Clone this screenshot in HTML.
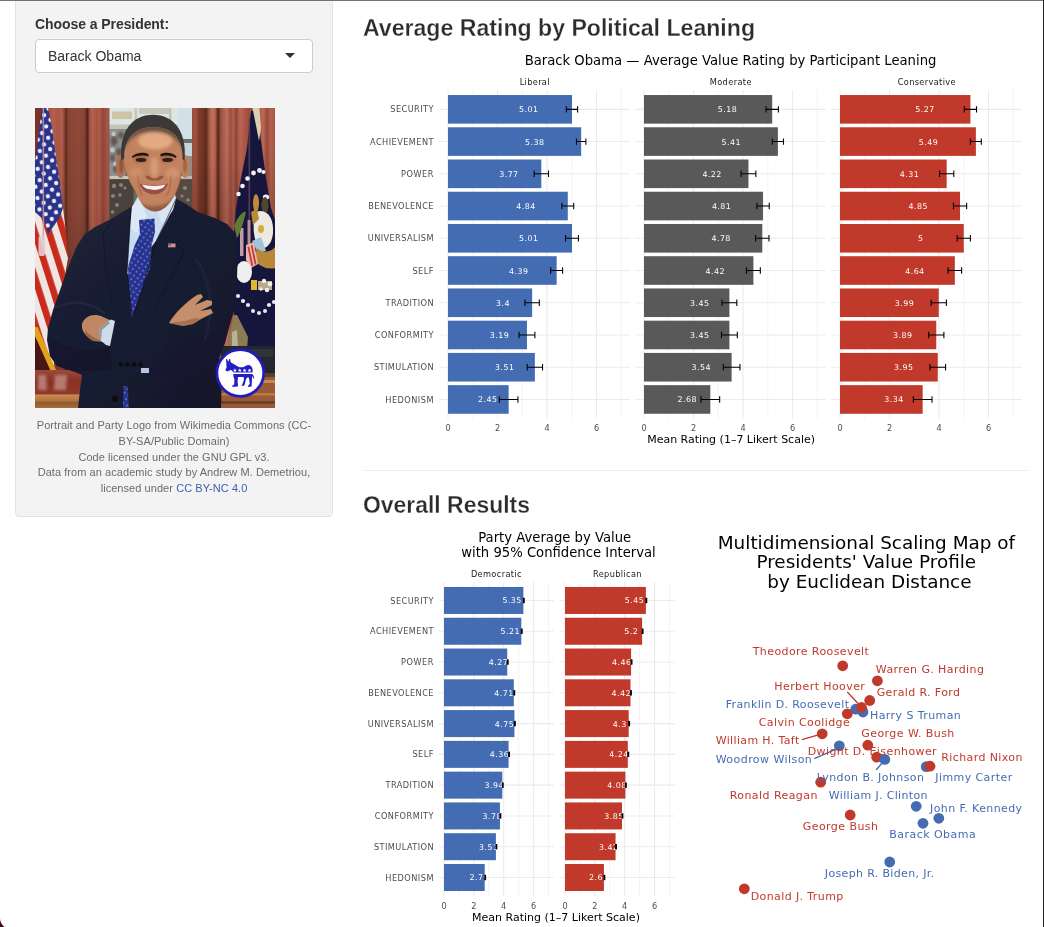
<!DOCTYPE html>
<html lang="en"><head><meta charset="utf-8"><title>Presidential Values</title>
<style>
html,body{margin:0;padding:0;}
body{width:1044px;height:927px;overflow:hidden;background:#fff;position:relative;font-family:"Liberation Sans",sans-serif;color:#333;}
.abs{position:absolute;}
.well{position:absolute;left:15px;top:-6px;width:316px;height:521px;background:#f3f3f3;border:1px solid #e3e3e3;border-radius:4px;box-shadow:inset 0 1px 1px rgba(0,0,0,.05);}
.lbl{position:absolute;left:35px;top:14px;font-size:14px;line-height:20px;font-weight:bold;color:#333;white-space:nowrap;letter-spacing:-0.07px;}
.sel{position:absolute;left:35px;top:39px;width:276px;height:32px;border:1px solid #ccc;border-radius:4px;background:#fff;}
.sel span{position:absolute;left:12px;top:6px;font-size:14px;line-height:20px;color:#333;white-space:nowrap;}
.sel i{position:absolute;right:17px;top:13px;width:0;height:0;border-style:solid;border-width:5px 5px 0 5px;border-color:#333 transparent transparent transparent;}
.cap{position:absolute;left:33px;top:418.3px;width:282px;letter-spacing:.06px;text-align:center;font-size:11px;line-height:15.714px;color:#6b6b6b;}
.cap a{color:#3a62ad;text-decoration:none;}
h3{position:absolute;margin:0;transform-origin:0 0;-webkit-text-stroke:.28px #fff;font-size:24px;line-height:26px;font-weight:bold;color:#2c2c2c;white-space:nowrap;}
.hr{position:absolute;left:363px;top:470px;width:666px;height:1px;background:#eee;}
.plot{position:absolute;display:block;}
.edge-top{position:absolute;left:0;top:0;width:1044px;height:1px;background:#737373;}
.edge-right{position:absolute;left:1043px;top:0;width:1px;height:927px;background:#222;}
.corner{position:absolute;left:-11px;top:906.5px;width:22px;height:22px;}
</style></head><body>
<div class="well"></div>
<div class="lbl">Choose a President:</div>
<div class="sel"><span>Barack Obama</span><i></i></div>
<svg class="abs" style="left:35px;top:108px" width="240" height="300" viewBox="0 0 240 300">
<defs>
<linearGradient id="foldL" x1="0" x2="76" y1="0" y2="0" gradientUnits="userSpaceOnUse"><stop offset="0.000" stop-color="#74302a"/><stop offset="0.079" stop-color="#7b3026"/><stop offset="0.158" stop-color="#9c4d3d"/><stop offset="0.237" stop-color="#b55f4e"/><stop offset="0.303" stop-color="#aa5746"/><stop offset="0.355" stop-color="#b4604e"/><stop offset="0.388" stop-color="#8a4233"/><stop offset="0.408" stop-color="#5c2b1f"/><stop offset="0.434" stop-color="#874232"/><stop offset="0.500" stop-color="#8e4737"/><stop offset="0.579" stop-color="#8f4939"/><stop offset="0.645" stop-color="#884535"/><stop offset="0.678" stop-color="#66301f"/><stop offset="0.692" stop-color="#50231a"/><stop offset="0.717" stop-color="#9a4f3e"/><stop offset="0.755" stop-color="#b8624f"/><stop offset="0.812" stop-color="#a25542"/><stop offset="0.847" stop-color="#b05c49"/><stop offset="0.895" stop-color="#944538"/><stop offset="0.954" stop-color="#a65847"/><stop offset="1.000" stop-color="#9a4e3e"/></linearGradient>
<linearGradient id="foldR" x1="155" x2="240" y1="0" y2="0" gradientUnits="userSpaceOnUse"><stop offset="0.000" stop-color="#9a4e3c"/><stop offset="0.071" stop-color="#a0523f"/><stop offset="0.106" stop-color="#7e3c2b"/><stop offset="0.165" stop-color="#6f3323"/><stop offset="0.191" stop-color="#5c2b1d"/><stop offset="0.218" stop-color="#9a4f3e"/><stop offset="0.259" stop-color="#c4705e"/><stop offset="0.294" stop-color="#b96654"/><stop offset="0.318" stop-color="#7a3a2a"/><stop offset="0.332" stop-color="#50241a"/><stop offset="0.353" stop-color="#8e4a3a"/><stop offset="0.382" stop-color="#a55a48"/><stop offset="0.435" stop-color="#c06e5c"/><stop offset="0.480" stop-color="#9c4e3e"/><stop offset="0.511" stop-color="#b4604e"/><stop offset="0.541" stop-color="#8e4436"/><stop offset="0.588" stop-color="#be6654"/><stop offset="0.635" stop-color="#b05a4a"/><stop offset="0.694" stop-color="#9c4c3d"/><stop offset="0.812" stop-color="#a85646"/><stop offset="0.859" stop-color="#c06a58"/><stop offset="0.906" stop-color="#9a4a3b"/><stop offset="0.953" stop-color="#b86250"/><stop offset="1.000" stop-color="#a55445"/></linearGradient>
<linearGradient id="shadeDown" x1="0" x2="0" y1="0" y2="1"><stop offset="0" stop-color="#000" stop-opacity="0"/><stop offset=".35" stop-color="#000" stop-opacity=".05"/><stop offset="1" stop-color="#200" stop-opacity=".38"/></linearGradient>
<pattern id="stripes" width="13.6" height="10" patternUnits="userSpaceOnUse" patternTransform="rotate(-17.5)"><rect width="13.6" height="10" fill="#efe6e2"/><rect width="6.6" height="10" fill="#c92a1e"/></pattern>
<pattern id="dots" width="4.6" height="4.6" patternUnits="userSpaceOnUse" patternTransform="rotate(35)"><rect width="4.6" height="4.6" fill="#27328f"/><circle cx="2.3" cy="2.3" r=".9" fill="#7f8bd6"/></pattern>
<pattern id="stars" width="10.5" height="11.5" patternUnits="userSpaceOnUse" patternTransform="rotate(-10)"><rect width="10.5" height="11.5" fill="#2a3389"/><circle cx="2.6" cy="2.9" r="2.1" fill="#eeeef8"/><circle cx="7.8" cy="8.6" r="2.1" fill="#eeeef8"/></pattern>
<linearGradient id="suit" x1="0" x2="1" y1="0" y2="1"><stop offset="0" stop-color="#1c2238"/><stop offset=".5" stop-color="#181d31"/><stop offset="1" stop-color="#12162a"/></linearGradient>
<radialGradient id="skin" cx=".45" cy=".45" r=".6"><stop offset="0" stop-color="#cf9470"/><stop offset=".6" stop-color="#bd7d5b"/><stop offset="1" stop-color="#8f583f"/></radialGradient>
<linearGradient id="deskL" x1="0" x2="0" y1="262" y2="300" gradientUnits="userSpaceOnUse"><stop offset="0" stop-color="#9a4a3c"/><stop offset=".3" stop-color="#8a3024"/><stop offset=".62" stop-color="#8c3a2b"/><stop offset=".66" stop-color="#c98850"/><stop offset=".8" stop-color="#b8743f"/><stop offset=".86" stop-color="#8d5a2e"/><stop offset="1" stop-color="#a86c3a"/></linearGradient>
<filter id="b1" x="-5%" y="-5%" width="110%" height="110%"><feGaussianBlur stdDeviation=".7"/></filter>
<filter id="b2" x="-10%" y="-10%" width="120%" height="120%"><feGaussianBlur stdDeviation="1.6"/></filter>
<filter id="b3" x="-20%" y="-20%" width="140%" height="140%"><feGaussianBlur stdDeviation="3"/></filter>
<clipPath id="pc"><rect width="240" height="300"/></clipPath>
</defs>
<g clip-path="url(#pc)">
<!-- curtains -->
<rect x="0" y="0" width="76" height="270" fill="url(#foldL)"/>
<rect x="0" y="0" width="9" height="270" fill="#6e281f" opacity=".75"/>
<rect x="0" y="0" width="76" height="270" fill="url(#shadeDown)"/>
<rect x="155" y="0" width="85" height="270" fill="url(#foldR)"/>
<rect x="155" y="0" width="85" height="140" fill="url(#shadeDown)" opacity=".6"/>
<!-- window -->
<g filter="url(#b1)">
<rect x="74.5" y="0" width="82.5" height="120" fill="#6a6660"/>
<rect x="74.5" y="0" width="82.5" height="17" fill="#dde6e6"/>
<rect x="77" y="3.5" width="20" height="7.5" fill="#c9be98" opacity=".85"/>
<rect x="104" y="0" width="30" height="6" fill="#b9b59c" opacity=".6"/>
<rect x="74.5" y="16.5" width="82.5" height="4.8" fill="#c6c4b8"/>
<rect x="99.5" y="0" width="2.6" height="17" fill="#c9c6b6"/>
<rect x="134" y="0" width="2.4" height="17" fill="#c3c0b2"/>
<rect x="74.5" y="21.3" width="16" height="47" fill="#8f9492"/>
<rect x="143" y="0" width="14" height="31" fill="#d3e1e7"/>
<rect x="146" y="31" width="11" height="4" fill="#6f6f6b"/>
<rect x="147" y="35" width="10" height="13" fill="#c5d5db"/>
<rect x="147" y="48" width="10" height="20" fill="#8e8e8a"/>
<g fill="#5a3f38" opacity=".8" filter="url(#b2)"><ellipse cx="79" cy="33" rx="3.5" ry="5"/><ellipse cx="86" cy="27" rx="3" ry="3.5"/><ellipse cx="84" cy="44" rx="3" ry="4"/><ellipse cx="77.5" cy="50" rx="2.5" ry="4"/><ellipse cx="82" cy="61" rx="4" ry="3.5"/></g>
<g fill="#c4d0d4" opacity=".8" filter="url(#b1)"><circle cx="78.5" cy="26" r="2.2"/><circle cx="77.5" cy="42" r="2.4"/><circle cx="80" cy="56" r="2"/></g>
<rect x="74.5" y="68" width="20" height="3.2" fill="#c9c7bc"/>
<rect x="146" y="68" width="11" height="3.2" fill="#bdbbb0"/>
<rect x="74.5" y="71.2" width="24" height="45" fill="#4c433c"/>
<rect x="140" y="71.2" width="17" height="45" fill="#574942"/>
<g fill="#9aa19c" opacity=".7"><circle cx="79" cy="78" r="2.2"/><circle cx="86" cy="77" r="2"/><circle cx="90" cy="80" r="1.6"/><circle cx="78" cy="88" r="2"/><circle cx="85" cy="87" r="1.8"/><circle cx="82" cy="97" r="2"/><circle cx="77.5" cy="104" r="1.8"/><circle cx="150" cy="80" r="2"/><circle cx="153" cy="92" r="1.8"/><circle cx="147" cy="88" r="1.6"/></g>
</g>
<!-- left flag -->
<g filter="url(#b1)">
<polygon points="0,96 28,100 31,125 33,150 30,168 26,185 19,204 19,263 0,263" fill="url(#stripes)"/>
<polygon points="0,0 6.5,0 13,0 17,20 21,50 25,75 28,100 24.5,110 13,126 9,112 0,104" fill="url(#stars)"/>
<polygon points="0,0 7,0 3,30 0,55" fill="#7a3026"/>
<polygon points="0,219 2.5,219 21,262 16,264 0,228" fill="#e2a21f"/>
<polygon points="0,228 16,264 0,264" fill="#4a1915"/>
<rect x="7.6" y="0" width="1.5" height="140" fill="#c59aa8" opacity=".85"/>
<rect x="3.5" y="128" width="6.5" height="20" rx="2" fill="#e4cfd0" opacity=".9"/>
</g>
<!-- right flag -->
<g filter="url(#b1)">
<polygon points="216,3 222,3 227,40 231,70 236,100 240,112 240,250 199,250 198.5,130 201,100 206,70 212,40" fill="#17173e"/>
<polygon points="217.5,0 224.5,0 226,20 224,33 221.5,20" fill="#d9cfb2"/>
<rect x="213.5" y="10" width="1.6" height="150" fill="#6d3d55" opacity=".8"/>
<g fill="#f2f2f4"><circle cx="203.5" cy="86" r="2.2"/><circle cx="207.5" cy="78" r="2.3"/><circle cx="212.5" cy="70.5" r="2.3"/><circle cx="218.5" cy="65" r="2.4"/><circle cx="224.5" cy="62.5" r="2.4"/><circle cx="228.5" cy="64" r="2"/><ellipse cx="231" cy="89" rx="3.2" ry="2.6"/></g>
<ellipse cx="221" cy="95" rx="3" ry="9" fill="#c08a3a"/>
<ellipse cx="230" cy="97" rx="3.5" ry="8" fill="#4f4a2c"/>
<!-- emblem lower -->
<path d="M221,104 C232,100 239,110 238,125 C237,137 230,142 224,140 C218,132 217,115 221,104Z" fill="#ece9e2"/>
<path d="M216,104 l6,-3 l2,10 l-6,6z" fill="#b98a3a"/>
<ellipse cx="226" cy="121" rx="3" ry="4" fill="#d8a93a"/>
<path d="M217,133 l9,-4 l5,14 l-8,2z" fill="#9fc4dd"/>
<path d="M222,140 C228,146 236,144 240,139 L240,160 C232,162 224,158 219,152Z" fill="#b98738"/>
<path d="M211,137 l8,-3 l4,22 l-7,4 l-5,-8z" fill="#e7b6b0"/><path d="M212.5,139 l1.6,-.6 l4,19 l-1.6,.8z M215.8,137.5 l1.6,-.6 l4,19 l-1.6,.8z" fill="#c5352b"/>
<rect x="205" y="120" width="3.5" height="28" fill="#e3b3b6" opacity=".85"/>
<rect x="212.5" y="112" width="3" height="24" fill="#dda7ad" opacity=".8"/>
<ellipse cx="209" cy="164" rx="8" ry="11" fill="#efefee"/>
<path d="M199,118 C203,108 208,103 211,104 C209,112 206,124 202,130Z" fill="#5f7a35"/>
<rect x="216" y="172" width="6" height="10" fill="#e0b52f"/><rect x="223" y="173" width="14" height="9" fill="#b9a98a"/><g fill="#efefef"><circle cx="229" cy="173" r="2.2"/><circle cx="235" cy="176" r="2.4"/><circle cx="232" cy="182" r="2.2"/><circle cx="226" cy="181" r="1.8"/></g>
<g fill="#e9e9ee"><circle cx="203" cy="188" r="2.1"/><circle cx="208" cy="193" r="2.1"/><circle cx="213" cy="197" r="2.1"/><circle cx="234" cy="197" r="2.1"/><circle cx="239" cy="194" r="2.1"/><circle cx="218" cy="203" r="2"/><circle cx="224" cy="205" r="2"/><circle cx="230" cy="203" r="2"/></g>
<!-- statue + phone + desk right -->
<path d="M199,207 l3,0 l11,22 l-1,12 l-18,0 l0,-14z" fill="#8c7c52"/>
<path d="M197,224 l5,-2 l1,18 l-6,0z" fill="#cfc8b4" opacity=".7"/>
<rect x="186" y="238" width="54" height="32" fill="#23252d"/>
<rect x="214" y="241" width="24" height="8" rx="2" fill="#30333b"/>
<rect x="184" y="265" width="56" height="35" fill="#9a5a35"/>
<rect x="184" y="265" width="56" height="4" fill="#5b3a2a"/>
<rect x="184" y="272" width="56" height="3" fill="#c08a5a"/>
<rect x="184" y="285" width="56" height="2.5" fill="#b77a48"/>
<rect x="184" y="293" width="56" height="3" fill="#6e4326"/>
</g>
<!-- desk left -->
<g filter="url(#b1)">
<rect x="0" y="262" width="50" height="38" fill="url(#deskL)"/>
</g>
<g filter="url(#b2)" opacity=".55"><path d="M3,267 h8 l1,15 h-9z M20,267 h12 l-1,15 h-12z" fill="#d9b4ac"/></g>
<!-- suit -->
<g filter="url(#b1)">
<path d="M96,99 L76,111 L60,119 L49,127 L42,138 L36,152 L30,168 L24,185 L18,202 L13,220 L12,232 L15,248 L22,258 L40,264 L47,267 L45,282 L43,300 L186,300 L187,262 L184,250 L190,235 L195,216 L200,200 L202,170 L203,140 L200,125 L192,116 L180,110 L163,104 L151,96 L141,90.5 L136,100 L100,104Z" fill="url(#suit)"/>
<!-- shirt -->
<path d="M97,99 L103,88 L140,86 L141,90.5 L138,101 L121,133 L108,150 L99,168 L92,166 L95,120Z" fill="#c9dbee"/>
<path d="M97,99 L104,90 L112,108 L101,125 L95,120Z" fill="#dbe8f6"/>
<path d="M139,89 L141,90.5 L138,102 L127,117 L123,105Z" fill="#d7e5f4"/>
<!-- tie -->
<path d="M104,112 L119.5,110.5 L120,124 L116.6,137 L115.5,159 L106.5,182 L98.7,204 L96.9,210 L96,204 L94.2,182 L93,159 L99.8,137 L105,126Z" fill="url(#dots)"/>
<path d="M88.5,278 L92.5,278 L94,300 L88,300Z" fill="url(#dots)"/>
<!-- lapel lines -->
<path d="M96,101 L92,166 L97,205" stroke="#0c0f1c" stroke-width="1.1" fill="none" opacity=".55"/>
<path d="M141,91 L121,134 L100,205" stroke="#0b0e1b" stroke-width="1.1" fill="none" opacity=".55"/>
<path d="M78,112 L68,126 L71,160 L78,200" stroke="#0d1020" stroke-width="1" fill="none" opacity=".55"/>
<path d="M151,128 L140,136 L150,142 L120,200" stroke="#0b0e1b" stroke-width="1" fill="none" opacity=".6"/>
<!-- arm shading -->
<path d="M13,228 C30,240 60,246 75,238 L77,262 L40,264 L22,258 L15,248Z" fill="#10142a" opacity=".6"/>
<path d="M76,218 L190,232 L184,250 L187,262 L120,268 L76,262Z" fill="#151a30" opacity=".7"/>
<path d="M20,200 C40,190 60,196 70,206" stroke="#2a3150" stroke-width="2" fill="none" opacity=".5"/>
<path d="M160,150 C175,170 180,200 170,232" stroke="#262c48" stroke-width="2.5" fill="none" opacity=".5"/>
<!-- flag pin -->
<rect x="133" y="135.5" width="7.5" height="3.8" fill="#d98f84"/><rect x="133" y="135.5" width="3" height="2" fill="#5361a8"/>
<!-- buttons -->
<g fill="#070910"><circle cx="86" cy="256.5" r="2.2"/><circle cx="92.5" cy="256.5" r="2.2"/><circle cx="99" cy="256.5" r="2.2"/><circle cx="105.5" cy="256.5" r="2.2"/><circle cx="80" cy="291" r="3"/></g>
<rect x="106" y="260" width="8" height="5" fill="#b6c6e2"/>
</g>
<!-- hands -->
<g filter="url(#b1)">
<path d="M47,216 C50,207 60,205 68,209 L77,213 L72,234 L58,233 C50,228 46,222 47,216Z" fill="#c08862"/>
<path d="M50,222 C55,228 62,232 70,233 L72,234 L58,233 C52,230 49,226 50,222Z" fill="#8d5a40" opacity=".7"/>
<path d="M64.5,220 L76,211.5 L80,213 L75,238 L71,237 L65,232Z" fill="#cfdcec"/>
<path d="M64.5,220 L73,213.5 L75,215 L67,222 L66,232 L64.5,231Z" fill="#8f9aa8"/>
<path d="M134,215 C140,205 150,195 162,187 L166,186 L168,189 L160,197 L172,192 L177,193 L177,197 L165,203 L176,201 L178,205 L166,211 L158,216 L148,218Z" fill="#c48f6a"/>
<path d="M134,215 L148,218 L158,216 L166,211 L160,210 L150,213Z" fill="#9a6547" opacity=".7"/>
</g>
<!-- head -->
<clipPath id="fc"><path d="M89.5,48 C89.5,30 100,19 118,19 C137,19 147.5,30 147.5,48 C147.5,62 146,73 141.5,83 C138,92 130,103.5 120,103.5 C110,103.5 103.5,92 100.5,83 C93,73 89.5,62 89.5,48Z"/></clipPath>
<g filter="url(#b1)">
<ellipse cx="85.6" cy="58.5" rx="4.6" ry="11.5" fill="#b06d50"/>
<ellipse cx="150.2" cy="58.5" rx="4.6" ry="11.5" fill="#be7f5f"/>
<ellipse cx="86.3" cy="58" rx="2" ry="7" fill="#8a4f39" opacity=".7"/>
<ellipse cx="150" cy="58" rx="2" ry="7" fill="#96583f" opacity=".6"/>
<path d="M86.5,53 C83.5,24 97,6.8 118,6.8 C139,6.8 152.5,24 149.5,53 L146.5,50 C147,34 141,25 118,20.5 C95,25 89,34 89.5,50Z" fill="#3c3937"/>
<path d="M89.5,48 C89.5,30 100,19 118,19 C137,19 147.5,30 147.5,48 C147.5,62 146,73 141.5,83 C138,92 130,103.5 120,103.5 C110,103.5 103.5,92 100.5,83 C93,73 89.5,62 89.5,48Z" fill="#c3825e"/>
</g>
<g clip-path="url(#fc)"><g filter="url(#b2)">
<path d="M88,44 C90,28 100,17 118,17 C137,17 147,28 149,44 C143,30 134,24 118,23.5 C102,24 94,30 88,44Z" fill="#5a4a40" opacity=".85"/>
<ellipse cx="120" cy="33" rx="17" ry="8.5" fill="#e2aa82"/>
<ellipse cx="119.5" cy="59" rx="4.2" ry="10" fill="#d59b76"/>
<ellipse cx="101.5" cy="65" rx="6.5" ry="5.5" fill="#cc8d69"/>
<ellipse cx="137.5" cy="65" rx="6.5" ry="5.5" fill="#d09370"/>
<path d="M89,56 C90,75 97,92 110,101 L99,104 L86,80Z" fill="#8e543b" opacity=".75"/>
<path d="M148,56 C147,75 140,92 127,101 L138,104 L151,80Z" fill="#9a5d42" opacity=".6"/>
<path d="M101,92 C108,100 129,100 136,92 L134,106 L103,106Z" fill="#8a5139" opacity=".8"/>
<ellipse cx="118.5" cy="92" rx="7" ry="3.5" fill="#c18460" opacity=".8"/>
<ellipse cx="105.5" cy="51" rx="7" ry="3.4" fill="#935a42" opacity=".75"/>
<ellipse cx="132.5" cy="51" rx="7" ry="3.4" fill="#935a42" opacity=".75"/>
</g></g>
<g filter="url(#b1)">
<path d="M97,48.3 C102,44.2 109,44 113.5,46 L113.5,48.4 C108,47 102.5,47.4 97.5,50Z" fill="#241711"/>
<path d="M125.5,46 C130,44 137,44.2 141.5,48.3 L141,50 C136,47.4 131,47 125.5,48.4Z" fill="#241711"/>
<ellipse cx="106" cy="52" rx="5.2" ry="1.9" fill="#2e1b14"/><ellipse cx="132.5" cy="52" rx="5.2" ry="1.9" fill="#2e1b14"/>
<path d="M110.5,69 C112,66.5 114,67.5 116,69.5 C118,70.8 121,70.8 123,69.5 C125,67.5 127,66.5 128.5,69 C127,72 123,72.6 119.5,72.6 C116,72.6 112,72 110.5,69Z" fill="#8b4f38" opacity=".85"/>
<path d="M103,67 C103,75 104,81 107,88" stroke="#92563c" stroke-width="1.3" fill="none" opacity=".45"/>
<path d="M136,67 C136,75 135,81 132,88" stroke="#92563c" stroke-width="1.3" fill="none" opacity=".45"/>
<path d="M104.5,75.5 C112,77.8 126,77.8 133,75.5 C130.5,83.5 124.5,86.3 119,86.3 C113.5,86.3 107,83.5 104.5,75.5Z" fill="#96504a"/>
<path d="M107,76.6 C113,78.4 125,78.4 130.5,76.6 C128.5,81 123.5,82 119,82 C114.5,82 109.5,81 107,76.6Z" fill="#f7f3ee"/>
</g>
<!-- party logo -->
<circle cx="205.3" cy="265" r="23.4" fill="#fff" stroke="#231ac0" stroke-width="2.7"/>
<g fill="#261ec4">
<path d="M190.2,262.3 L191.6,259.5 L191.3,254.5 L191,251.2 L192,251 L193.4,254 L194.2,251 L195.1,251 L195.8,254.6 C198,255.5 200,256.8 202.8,258.4 C205,259.4 207,259.4 208.8,259 C210.5,257.5 212.5,256.8 213.8,257 C216,257.3 217.6,259.5 217.7,262.2 L217.5,264.4 L198.5,264.4 C197.5,263 196.5,262 195.5,262 L192.6,263.6Z"/>
<path d="M198.2,266 L217.2,266 C218.5,267 219.2,268.8 219.2,270.4 L218.4,270.6 C218.2,269.4 217.8,268.6 217.2,268 L217,271 L216.6,278.6 L212.8,279 L213.6,277 L214.8,276 L214.2,271 L213.2,269 L211.2,270.5 L209.4,277.6 L206.4,278 L207.4,276.2 L209,271.5 L208.6,269 L203,269 L202.6,274 L203,276.6 L202.8,278.4 L197.2,279 L197.6,277.4 L199.2,276.4 L199.4,271 C198.6,269.5 198.2,268 198.2,266Z"/>
</g>
<path fill="#fff" d="M199.9,260.5 l.55,1.2 l1.3,.15 l-.95,.85 l.3,1.3 l-1.2,-.7 l-1.2,.7 l.3,-1.3 l-.95,-.85 l1.3,-.15z M204.8,260.5 l.55,1.2 l1.3,.15 l-.95,.85 l.3,1.3 l-1.2,-.7 l-1.2,.7 l.3,-1.3 l-.95,-.85 l1.3,-.15z M209.6,260.5 l.55,1.2 l1.3,.15 l-.95,.85 l.3,1.3 l-1.2,-.7 l-1.2,.7 l.3,-1.3 l-.95,-.85 l1.3,-.15z M214.5,260.5 l.55,1.2 l1.3,.15 l-.95,.85 l.3,1.3 l-1.2,-.7 l-1.2,.7 l.3,-1.3 l-.95,-.85 l1.3,-.15z"/>
</g>
</svg>

<div class="cap">Portrait and Party Logo from Wikimedia Commons (CC-BY-SA/Public Domain)<br>Code licensed under the GNU GPL v3.<br>Data from an academic study by Andrew M. Demetriou, licensed under <a>CC BY-NC 4.0</a></div>
<h3 style="left:363px;top:15px;transform:scaleX(.9627)">Average Rating by Political Leaning</h3>
<svg class="plot" style="left:363px;top:51px" width="666" height="400" viewBox="363 51 666 400" font-family="'DejaVu Sans', sans-serif">
<rect x="363" y="51" width="666" height="400" fill="#fff"/>
<text x="730.5" y="64.6" font-size="13.2" text-anchor="middle" fill="#000">Barack Obama — Average Value Rating by Participant Leaning</text>
<line x1="448" x2="448" y1="90" y2="418.8" stroke="#EBEBEB" stroke-width="1.07"/><line x1="472.75" x2="472.75" y1="90" y2="418.8" stroke="#EBEBEB" stroke-width="0.53"/><line x1="497.5" x2="497.5" y1="90" y2="418.8" stroke="#EBEBEB" stroke-width="1.07"/><line x1="522.25" x2="522.25" y1="90" y2="418.8" stroke="#EBEBEB" stroke-width="0.53"/><line x1="547" x2="547" y1="90" y2="418.8" stroke="#EBEBEB" stroke-width="1.07"/><line x1="571.75" x2="571.75" y1="90" y2="418.8" stroke="#EBEBEB" stroke-width="0.53"/><line x1="596.5" x2="596.5" y1="90" y2="418.8" stroke="#EBEBEB" stroke-width="1.07"/><line x1="621.25" x2="621.25" y1="90" y2="418.8" stroke="#EBEBEB" stroke-width="0.53"/><line x1="439.34" x2="629.91" y1="109.34" y2="109.34" stroke="#EBEBEB" stroke-width="1.07"/><line x1="439.34" x2="629.91" y1="141.58" y2="141.58" stroke="#EBEBEB" stroke-width="1.07"/><line x1="439.34" x2="629.91" y1="173.81" y2="173.81" stroke="#EBEBEB" stroke-width="1.07"/><line x1="439.34" x2="629.91" y1="206.05" y2="206.05" stroke="#EBEBEB" stroke-width="1.07"/><line x1="439.34" x2="629.91" y1="238.28" y2="238.28" stroke="#EBEBEB" stroke-width="1.07"/><line x1="439.34" x2="629.91" y1="270.52" y2="270.52" stroke="#EBEBEB" stroke-width="1.07"/><line x1="439.34" x2="629.91" y1="302.75" y2="302.75" stroke="#EBEBEB" stroke-width="1.07"/><line x1="439.34" x2="629.91" y1="334.99" y2="334.99" stroke="#EBEBEB" stroke-width="1.07"/><line x1="439.34" x2="629.91" y1="367.22" y2="367.22" stroke="#EBEBEB" stroke-width="1.07"/><line x1="439.34" x2="629.91" y1="399.46" y2="399.46" stroke="#EBEBEB" stroke-width="1.07"/>
<text x="534.62" y="84.6" font-size="8.2" text-anchor="middle" textLength="29.8" lengthAdjust="spacing" fill="#1A1A1A">Liberal</text>
<rect x="448" y="95.04" width="124" height="28.61" fill="#446CB3"/>
<path d="M566.35 109.34H577.64M566.35 106.14V112.54M577.64 106.14V112.54" stroke="#000" stroke-width="1.07" fill="none"/>
<text x="528.6" y="112.34" font-size="7.9" text-anchor="middle" textLength="19.01" lengthAdjust="spacing" fill="#fff">5.01</text>
<rect x="448" y="127.27" width="133.16" height="28.61" fill="#446CB3"/>
<path d="M576.45 141.58H585.86M576.45 138.38V144.78M585.86 138.38V144.78" stroke="#000" stroke-width="1.07" fill="none"/>
<text x="534.55" y="144.58" font-size="7.9" text-anchor="middle" textLength="19.01" lengthAdjust="spacing" fill="#fff">5.38</text>
<rect x="448" y="159.51" width="93.31" height="28.61" fill="#446CB3"/>
<path d="M534.13 173.81H548.49M534.13 170.61V177.01M548.49 170.61V177.01" stroke="#000" stroke-width="1.07" fill="none"/>
<text x="508.65" y="176.81" font-size="7.9" text-anchor="middle" textLength="19.01" lengthAdjust="spacing" fill="#fff">3.77</text>
<rect x="448" y="191.74" width="119.79" height="28.61" fill="#446CB3"/>
<path d="M561.85 206.05H573.73M561.85 202.85V209.25M573.73 202.85V209.25" stroke="#000" stroke-width="1.07" fill="none"/>
<text x="525.86" y="209.05" font-size="7.9" text-anchor="middle" textLength="19.01" lengthAdjust="spacing" fill="#fff">4.84</text>
<rect x="448" y="223.98" width="124" height="28.61" fill="#446CB3"/>
<path d="M565.56 238.28H578.43M565.56 235.08V241.48M578.43 235.08V241.48" stroke="#000" stroke-width="1.07" fill="none"/>
<text x="528.6" y="241.28" font-size="7.9" text-anchor="middle" textLength="19.01" lengthAdjust="spacing" fill="#fff">5.01</text>
<rect x="448" y="256.21" width="108.65" height="28.61" fill="#446CB3"/>
<path d="M550.71 270.52H562.59M550.71 267.32V273.72M562.59 267.32V273.72" stroke="#000" stroke-width="1.07" fill="none"/>
<text x="518.62" y="273.52" font-size="7.9" text-anchor="middle" textLength="19.01" lengthAdjust="spacing" fill="#fff">4.39</text>
<rect x="448" y="288.45" width="84.15" height="28.61" fill="#446CB3"/>
<path d="M524.97 302.75H539.33M524.97 299.55V305.95M539.33 299.55V305.95" stroke="#000" stroke-width="1.07" fill="none"/>
<text x="502.7" y="305.75" font-size="7.9" text-anchor="middle" textLength="13.58" lengthAdjust="spacing" fill="#fff">3.4</text>
<rect x="448" y="320.68" width="78.95" height="28.61" fill="#446CB3"/>
<path d="M519.03 334.99H534.87M519.03 331.79V338.19M534.87 331.79V338.19" stroke="#000" stroke-width="1.07" fill="none"/>
<text x="499.32" y="337.99" font-size="7.9" text-anchor="middle" textLength="19.01" lengthAdjust="spacing" fill="#fff">3.19</text>
<rect x="448" y="352.92" width="86.87" height="28.61" fill="#446CB3"/>
<path d="M527.2 367.22H542.54M527.2 364.02V370.42M542.54 364.02V370.42" stroke="#000" stroke-width="1.07" fill="none"/>
<text x="504.47" y="370.22" font-size="7.9" text-anchor="middle" textLength="19.01" lengthAdjust="spacing" fill="#fff">3.51</text>
<rect x="448" y="385.15" width="60.64" height="28.61" fill="#446CB3"/>
<path d="M499.33 399.46H517.94M499.33 396.26V402.66M517.94 396.26V402.66" stroke="#000" stroke-width="1.07" fill="none"/>
<text x="487.41" y="402.46" font-size="7.9" text-anchor="middle" textLength="19.01" lengthAdjust="spacing" fill="#fff">2.45</text>
<text x="448" y="430.8" font-size="8.2" text-anchor="middle" fill="#4D4D4D">0</text>
<text x="497.5" y="430.8" font-size="8.2" text-anchor="middle" fill="#4D4D4D">2</text>
<text x="547" y="430.8" font-size="8.2" text-anchor="middle" fill="#4D4D4D">4</text>
<text x="596.5" y="430.8" font-size="8.2" text-anchor="middle" fill="#4D4D4D">6</text>
<line x1="644" x2="644" y1="90" y2="418.8" stroke="#EBEBEB" stroke-width="1.07"/><line x1="668.75" x2="668.75" y1="90" y2="418.8" stroke="#EBEBEB" stroke-width="0.53"/><line x1="693.5" x2="693.5" y1="90" y2="418.8" stroke="#EBEBEB" stroke-width="1.07"/><line x1="718.25" x2="718.25" y1="90" y2="418.8" stroke="#EBEBEB" stroke-width="0.53"/><line x1="743" x2="743" y1="90" y2="418.8" stroke="#EBEBEB" stroke-width="1.07"/><line x1="767.75" x2="767.75" y1="90" y2="418.8" stroke="#EBEBEB" stroke-width="0.53"/><line x1="792.5" x2="792.5" y1="90" y2="418.8" stroke="#EBEBEB" stroke-width="1.07"/><line x1="817.25" x2="817.25" y1="90" y2="418.8" stroke="#EBEBEB" stroke-width="0.53"/><line x1="635.34" x2="825.91" y1="109.34" y2="109.34" stroke="#EBEBEB" stroke-width="1.07"/><line x1="635.34" x2="825.91" y1="141.58" y2="141.58" stroke="#EBEBEB" stroke-width="1.07"/><line x1="635.34" x2="825.91" y1="173.81" y2="173.81" stroke="#EBEBEB" stroke-width="1.07"/><line x1="635.34" x2="825.91" y1="206.05" y2="206.05" stroke="#EBEBEB" stroke-width="1.07"/><line x1="635.34" x2="825.91" y1="238.28" y2="238.28" stroke="#EBEBEB" stroke-width="1.07"/><line x1="635.34" x2="825.91" y1="270.52" y2="270.52" stroke="#EBEBEB" stroke-width="1.07"/><line x1="635.34" x2="825.91" y1="302.75" y2="302.75" stroke="#EBEBEB" stroke-width="1.07"/><line x1="635.34" x2="825.91" y1="334.99" y2="334.99" stroke="#EBEBEB" stroke-width="1.07"/><line x1="635.34" x2="825.91" y1="367.22" y2="367.22" stroke="#EBEBEB" stroke-width="1.07"/><line x1="635.34" x2="825.91" y1="399.46" y2="399.46" stroke="#EBEBEB" stroke-width="1.07"/>
<text x="730.62" y="84.6" font-size="8.2" text-anchor="middle" textLength="41.85" lengthAdjust="spacing" fill="#1A1A1A">Moderate</text>
<rect x="644" y="95.04" width="128.2" height="28.61" fill="#595959"/>
<path d="M766.02 109.34H778.39M766.02 106.14V112.54M778.39 106.14V112.54" stroke="#000" stroke-width="1.07" fill="none"/>
<text x="727.33" y="112.34" font-size="7.9" text-anchor="middle" textLength="19.01" lengthAdjust="spacing" fill="#fff">5.18</text>
<rect x="644" y="127.27" width="133.9" height="28.61" fill="#595959"/>
<path d="M772.3 141.58H783.49M772.3 138.38V144.78M783.49 138.38V144.78" stroke="#000" stroke-width="1.07" fill="none"/>
<text x="731.03" y="144.58" font-size="7.9" text-anchor="middle" textLength="19.01" lengthAdjust="spacing" fill="#fff">5.41</text>
<rect x="644" y="159.51" width="104.44" height="28.61" fill="#595959"/>
<path d="M741.02 173.81H755.87M741.02 170.61V177.01M755.87 170.61V177.01" stroke="#000" stroke-width="1.07" fill="none"/>
<text x="711.89" y="176.81" font-size="7.9" text-anchor="middle" textLength="19.01" lengthAdjust="spacing" fill="#fff">4.22</text>
<rect x="644" y="191.74" width="119.05" height="28.61" fill="#595959"/>
<path d="M756.86 206.05H769.24M756.86 202.85V209.25M769.24 202.85V209.25" stroke="#000" stroke-width="1.07" fill="none"/>
<text x="721.38" y="209.05" font-size="7.9" text-anchor="middle" textLength="19.01" lengthAdjust="spacing" fill="#fff">4.81</text>
<rect x="644" y="223.98" width="118.31" height="28.61" fill="#595959"/>
<path d="M755.62 238.28H768.99M755.62 235.08V241.48M768.99 235.08V241.48" stroke="#000" stroke-width="1.07" fill="none"/>
<text x="720.9" y="241.28" font-size="7.9" text-anchor="middle" textLength="19.01" lengthAdjust="spacing" fill="#fff">4.78</text>
<rect x="644" y="256.21" width="109.39" height="28.61" fill="#595959"/>
<path d="M746.47 270.52H760.32M746.47 267.32V273.72M760.32 267.32V273.72" stroke="#000" stroke-width="1.07" fill="none"/>
<text x="715.11" y="273.52" font-size="7.9" text-anchor="middle" textLength="19.01" lengthAdjust="spacing" fill="#fff">4.42</text>
<rect x="644" y="288.45" width="85.39" height="28.61" fill="#595959"/>
<path d="M721.96 302.75H736.81M721.96 299.55V305.95M736.81 299.55V305.95" stroke="#000" stroke-width="1.07" fill="none"/>
<text x="699.5" y="305.75" font-size="7.9" text-anchor="middle" textLength="19.01" lengthAdjust="spacing" fill="#fff">3.45</text>
<rect x="644" y="320.68" width="85.39" height="28.61" fill="#595959"/>
<path d="M721.47 334.99H737.31M721.47 331.79V338.19M737.31 331.79V338.19" stroke="#000" stroke-width="1.07" fill="none"/>
<text x="699.5" y="337.99" font-size="7.9" text-anchor="middle" textLength="19.01" lengthAdjust="spacing" fill="#fff">3.45</text>
<rect x="644" y="352.92" width="87.61" height="28.61" fill="#595959"/>
<path d="M723.3 367.22H739.93M723.3 364.02V370.42M739.93 364.02V370.42" stroke="#000" stroke-width="1.07" fill="none"/>
<text x="700.95" y="370.22" font-size="7.9" text-anchor="middle" textLength="19.01" lengthAdjust="spacing" fill="#fff">3.54</text>
<rect x="644" y="385.15" width="66.33" height="28.61" fill="#595959"/>
<path d="M701 399.46H719.66M701 396.26V402.66M719.66 396.26V402.66" stroke="#000" stroke-width="1.07" fill="none"/>
<text x="687.11" y="402.46" font-size="7.9" text-anchor="middle" textLength="19.01" lengthAdjust="spacing" fill="#fff">2.68</text>
<text x="644" y="430.8" font-size="8.2" text-anchor="middle" fill="#4D4D4D">0</text>
<text x="693.5" y="430.8" font-size="8.2" text-anchor="middle" fill="#4D4D4D">2</text>
<text x="743" y="430.8" font-size="8.2" text-anchor="middle" fill="#4D4D4D">4</text>
<text x="792.5" y="430.8" font-size="8.2" text-anchor="middle" fill="#4D4D4D">6</text>
<line x1="840" x2="840" y1="90" y2="418.8" stroke="#EBEBEB" stroke-width="1.07"/><line x1="864.75" x2="864.75" y1="90" y2="418.8" stroke="#EBEBEB" stroke-width="0.53"/><line x1="889.5" x2="889.5" y1="90" y2="418.8" stroke="#EBEBEB" stroke-width="1.07"/><line x1="914.25" x2="914.25" y1="90" y2="418.8" stroke="#EBEBEB" stroke-width="0.53"/><line x1="939" x2="939" y1="90" y2="418.8" stroke="#EBEBEB" stroke-width="1.07"/><line x1="963.75" x2="963.75" y1="90" y2="418.8" stroke="#EBEBEB" stroke-width="0.53"/><line x1="988.5" x2="988.5" y1="90" y2="418.8" stroke="#EBEBEB" stroke-width="1.07"/><line x1="1013.25" x2="1013.25" y1="90" y2="418.8" stroke="#EBEBEB" stroke-width="0.53"/><line x1="831.34" x2="1021.91" y1="109.34" y2="109.34" stroke="#EBEBEB" stroke-width="1.07"/><line x1="831.34" x2="1021.91" y1="141.58" y2="141.58" stroke="#EBEBEB" stroke-width="1.07"/><line x1="831.34" x2="1021.91" y1="173.81" y2="173.81" stroke="#EBEBEB" stroke-width="1.07"/><line x1="831.34" x2="1021.91" y1="206.05" y2="206.05" stroke="#EBEBEB" stroke-width="1.07"/><line x1="831.34" x2="1021.91" y1="238.28" y2="238.28" stroke="#EBEBEB" stroke-width="1.07"/><line x1="831.34" x2="1021.91" y1="270.52" y2="270.52" stroke="#EBEBEB" stroke-width="1.07"/><line x1="831.34" x2="1021.91" y1="302.75" y2="302.75" stroke="#EBEBEB" stroke-width="1.07"/><line x1="831.34" x2="1021.91" y1="334.99" y2="334.99" stroke="#EBEBEB" stroke-width="1.07"/><line x1="831.34" x2="1021.91" y1="367.22" y2="367.22" stroke="#EBEBEB" stroke-width="1.07"/><line x1="831.34" x2="1021.91" y1="399.46" y2="399.46" stroke="#EBEBEB" stroke-width="1.07"/>
<text x="926.62" y="84.6" font-size="8.2" text-anchor="middle" textLength="57.84" lengthAdjust="spacing" fill="#1A1A1A">Conservative</text>
<rect x="840" y="95.04" width="130.43" height="28.61" fill="#C0392B"/>
<path d="M964.32 109.34H976.55M964.32 106.14V112.54M976.55 106.14V112.54" stroke="#000" stroke-width="1.07" fill="none"/>
<text x="924.78" y="112.34" font-size="7.9" text-anchor="middle" textLength="19.01" lengthAdjust="spacing" fill="#fff">5.27</text>
<rect x="840" y="127.27" width="135.88" height="28.61" fill="#C0392B"/>
<path d="M970.43 141.58H981.32M970.43 138.38V144.78M981.32 138.38V144.78" stroke="#000" stroke-width="1.07" fill="none"/>
<text x="928.32" y="144.58" font-size="7.9" text-anchor="middle" textLength="19.01" lengthAdjust="spacing" fill="#fff">5.49</text>
<rect x="840" y="159.51" width="106.67" height="28.61" fill="#C0392B"/>
<path d="M939.54 173.81H953.8M939.54 170.61V177.01M953.8 170.61V177.01" stroke="#000" stroke-width="1.07" fill="none"/>
<text x="909.34" y="176.81" font-size="7.9" text-anchor="middle" textLength="19.01" lengthAdjust="spacing" fill="#fff">4.31</text>
<rect x="840" y="191.74" width="120.04" height="28.61" fill="#C0392B"/>
<path d="M953.43 206.05H966.65M953.43 202.85V209.25M966.65 202.85V209.25" stroke="#000" stroke-width="1.07" fill="none"/>
<text x="918.02" y="209.05" font-size="7.9" text-anchor="middle" textLength="19.01" lengthAdjust="spacing" fill="#fff">4.85</text>
<rect x="840" y="223.98" width="123.75" height="28.61" fill="#C0392B"/>
<path d="M957.14 238.28H970.36M957.14 235.08V241.48M970.36 235.08V241.48" stroke="#000" stroke-width="1.07" fill="none"/>
<text x="920.44" y="241.28" font-size="7.9" text-anchor="middle" fill="#fff">5</text>
<rect x="840" y="256.21" width="114.84" height="28.61" fill="#C0392B"/>
<path d="M948.06 270.52H961.62M948.06 267.32V273.72M961.62 267.32V273.72" stroke="#000" stroke-width="1.07" fill="none"/>
<text x="914.65" y="273.52" font-size="7.9" text-anchor="middle" textLength="19.01" lengthAdjust="spacing" fill="#fff">4.64</text>
<rect x="840" y="288.45" width="98.75" height="28.61" fill="#C0392B"/>
<path d="M931.13 302.75H946.38M931.13 299.55V305.95M946.38 299.55V305.95" stroke="#000" stroke-width="1.07" fill="none"/>
<text x="904.19" y="305.75" font-size="7.9" text-anchor="middle" textLength="19.01" lengthAdjust="spacing" fill="#fff">3.99</text>
<rect x="840" y="320.68" width="96.28" height="28.61" fill="#C0392B"/>
<path d="M928.65 334.99H943.9M928.65 331.79V338.19M943.9 331.79V338.19" stroke="#000" stroke-width="1.07" fill="none"/>
<text x="902.58" y="337.99" font-size="7.9" text-anchor="middle" textLength="19.01" lengthAdjust="spacing" fill="#fff">3.89</text>
<rect x="840" y="352.92" width="97.76" height="28.61" fill="#C0392B"/>
<path d="M929.97 367.22H945.56M929.97 364.02V370.42M945.56 364.02V370.42" stroke="#000" stroke-width="1.07" fill="none"/>
<text x="903.55" y="370.22" font-size="7.9" text-anchor="middle" textLength="19.01" lengthAdjust="spacing" fill="#fff">3.95</text>
<rect x="840" y="385.15" width="82.66" height="28.61" fill="#C0392B"/>
<path d="M913.33 399.46H932M913.33 396.26V402.66M932 396.26V402.66" stroke="#000" stroke-width="1.07" fill="none"/>
<text x="893.73" y="402.46" font-size="7.9" text-anchor="middle" textLength="19.01" lengthAdjust="spacing" fill="#fff">3.34</text>
<text x="840" y="430.8" font-size="8.2" text-anchor="middle" fill="#4D4D4D">0</text>
<text x="889.5" y="430.8" font-size="8.2" text-anchor="middle" fill="#4D4D4D">2</text>
<text x="939" y="430.8" font-size="8.2" text-anchor="middle" fill="#4D4D4D">4</text>
<text x="988.5" y="430.8" font-size="8.2" text-anchor="middle" fill="#4D4D4D">6</text>
<text x="433.5" y="112.44" font-size="8.2" text-anchor="end" textLength="43.19" lengthAdjust="spacing" fill="#4D4D4D">SECURITY</text>
<text x="433.5" y="144.68" font-size="8.2" text-anchor="end" textLength="63.47" lengthAdjust="spacing" fill="#4D4D4D">ACHIEVEMENT</text>
<text x="433.5" y="176.91" font-size="8.2" text-anchor="end" textLength="32.61" lengthAdjust="spacing" fill="#4D4D4D">POWER</text>
<text x="433.5" y="209.15" font-size="8.2" text-anchor="end" textLength="65.28" lengthAdjust="spacing" fill="#4D4D4D">BENEVOLENCE</text>
<text x="433.5" y="241.38" font-size="8.2" text-anchor="end" textLength="65.76" lengthAdjust="spacing" fill="#4D4D4D">UNIVERSALISM</text>
<text x="433.5" y="273.62" font-size="8.2" text-anchor="end" textLength="21.11" lengthAdjust="spacing" fill="#4D4D4D">SELF</text>
<text x="433.5" y="305.85" font-size="8.2" text-anchor="end" textLength="48" lengthAdjust="spacing" fill="#4D4D4D">TRADITION</text>
<text x="433.5" y="338.09" font-size="8.2" text-anchor="end" textLength="58.7" lengthAdjust="spacing" fill="#4D4D4D">CONFORMITY</text>
<text x="433.5" y="370.32" font-size="8.2" text-anchor="end" textLength="59.51" lengthAdjust="spacing" fill="#4D4D4D">STIMULATION</text>
<text x="433.5" y="402.56" font-size="8.2" text-anchor="end" textLength="48.24" lengthAdjust="spacing" fill="#4D4D4D">HEDONISM</text>
<text x="731.1" y="442.5" font-size="11" text-anchor="middle" fill="#000">Mean Rating (1–7 Likert Scale)</text>
</svg>
<div class="hr"></div>
<h3 style="left:363px;top:492.2px;transform:scaleX(.955)">Overall Results</h3>
<svg class="plot" style="left:363px;top:527px" width="318" height="400" viewBox="363 527 318 400" font-family="'DejaVu Sans', sans-serif">
<rect x="363" y="527" width="318" height="400" fill="#fff"/>
<text x="554.7" y="542" font-size="13.2" text-anchor="middle" fill="#000">Party Average by Value</text>
<text x="558.5" y="557" font-size="13.2" text-anchor="middle" fill="#000">with 95% Confidence Interval</text>
<line x1="444" x2="444" y1="582" y2="895.96" stroke="#EBEBEB" stroke-width="1.07"/><line x1="458.93" x2="458.93" y1="582" y2="895.96" stroke="#EBEBEB" stroke-width="0.53"/><line x1="473.86" x2="473.86" y1="582" y2="895.96" stroke="#EBEBEB" stroke-width="1.07"/><line x1="488.79" x2="488.79" y1="582" y2="895.96" stroke="#EBEBEB" stroke-width="0.53"/><line x1="503.72" x2="503.72" y1="582" y2="895.96" stroke="#EBEBEB" stroke-width="1.07"/><line x1="518.65" x2="518.65" y1="582" y2="895.96" stroke="#EBEBEB" stroke-width="0.53"/><line x1="533.58" x2="533.58" y1="582" y2="895.96" stroke="#EBEBEB" stroke-width="1.07"/><line x1="548.51" x2="548.51" y1="582" y2="895.96" stroke="#EBEBEB" stroke-width="0.53"/><line x1="438.77" x2="553.74" y1="600.47" y2="600.47" stroke="#EBEBEB" stroke-width="1.07"/><line x1="438.77" x2="553.74" y1="631.25" y2="631.25" stroke="#EBEBEB" stroke-width="1.07"/><line x1="438.77" x2="553.74" y1="662.03" y2="662.03" stroke="#EBEBEB" stroke-width="1.07"/><line x1="438.77" x2="553.74" y1="692.81" y2="692.81" stroke="#EBEBEB" stroke-width="1.07"/><line x1="438.77" x2="553.74" y1="723.59" y2="723.59" stroke="#EBEBEB" stroke-width="1.07"/><line x1="438.77" x2="553.74" y1="754.37" y2="754.37" stroke="#EBEBEB" stroke-width="1.07"/><line x1="438.77" x2="553.74" y1="785.15" y2="785.15" stroke="#EBEBEB" stroke-width="1.07"/><line x1="438.77" x2="553.74" y1="815.93" y2="815.93" stroke="#EBEBEB" stroke-width="1.07"/><line x1="438.77" x2="553.74" y1="846.71" y2="846.71" stroke="#EBEBEB" stroke-width="1.07"/><line x1="438.77" x2="553.74" y1="877.49" y2="877.49" stroke="#EBEBEB" stroke-width="1.07"/>
<text x="496.25" y="577.2" font-size="8.2" text-anchor="middle" textLength="50.73" lengthAdjust="spacing" fill="#1A1A1A">Democratic</text>
<rect x="444" y="586.97" width="79.38" height="27" fill="#446CB3"/>
<text x="511.89" y="603.47" font-size="7.9" text-anchor="middle" textLength="19.01" lengthAdjust="spacing" fill="#fff">5.35</text>
<rect x="522.88" y="597.77" width="1.9" height="5.4" fill="#000"/>
<rect x="444" y="617.75" width="77.29" height="27" fill="#446CB3"/>
<text x="510.12" y="634.25" font-size="7.9" text-anchor="middle" textLength="19.01" lengthAdjust="spacing" fill="#fff">5.21</text>
<rect x="520.79" y="628.55" width="1.9" height="5.4" fill="#000"/>
<rect x="444" y="648.53" width="63.25" height="27" fill="#446CB3"/>
<text x="498.19" y="665.03" font-size="7.9" text-anchor="middle" textLength="19.01" lengthAdjust="spacing" fill="#fff">4.27</text>
<rect x="506.75" y="659.33" width="1.9" height="5.4" fill="#000"/>
<rect x="444" y="679.31" width="69.82" height="27" fill="#446CB3"/>
<text x="503.77" y="695.81" font-size="7.9" text-anchor="middle" textLength="19.01" lengthAdjust="spacing" fill="#fff">4.71</text>
<rect x="513.32" y="690.11" width="1.9" height="5.4" fill="#000"/>
<rect x="444" y="710.09" width="70.42" height="27" fill="#446CB3"/>
<text x="504.28" y="726.59" font-size="7.9" text-anchor="middle" textLength="19.01" lengthAdjust="spacing" fill="#fff">4.75</text>
<rect x="513.92" y="720.89" width="1.9" height="5.4" fill="#000"/>
<rect x="444" y="740.87" width="64.59" height="27" fill="#446CB3"/>
<text x="499.33" y="757.37" font-size="7.9" text-anchor="middle" textLength="19.01" lengthAdjust="spacing" fill="#fff">4.36</text>
<rect x="508.09" y="751.67" width="1.9" height="5.4" fill="#000"/>
<rect x="444" y="771.65" width="58.32" height="27" fill="#446CB3"/>
<text x="494" y="788.15" font-size="7.9" text-anchor="middle" textLength="19.01" lengthAdjust="spacing" fill="#fff">3.94</text>
<rect x="501.82" y="782.45" width="1.9" height="5.4" fill="#000"/>
<rect x="444" y="802.43" width="55.94" height="27" fill="#446CB3"/>
<text x="491.97" y="818.93" font-size="7.9" text-anchor="middle" textLength="19.01" lengthAdjust="spacing" fill="#fff">3.78</text>
<rect x="499.44" y="813.23" width="1.9" height="5.4" fill="#000"/>
<rect x="444" y="833.21" width="51.9" height="27" fill="#446CB3"/>
<text x="488.54" y="849.71" font-size="7.9" text-anchor="middle" textLength="19.01" lengthAdjust="spacing" fill="#fff">3.51</text>
<rect x="495.4" y="844.01" width="1.9" height="5.4" fill="#000"/>
<rect x="444" y="863.99" width="40.71" height="27" fill="#446CB3"/>
<text x="479.03" y="880.49" font-size="7.9" text-anchor="middle" textLength="19.01" lengthAdjust="spacing" fill="#fff">2.76</text>
<rect x="484.21" y="874.79" width="1.9" height="5.4" fill="#000"/>
<text x="444" y="908.5" font-size="8.2" text-anchor="middle" fill="#4D4D4D">0</text>
<text x="473.86" y="908.5" font-size="8.2" text-anchor="middle" fill="#4D4D4D">2</text>
<text x="503.72" y="908.5" font-size="8.2" text-anchor="middle" fill="#4D4D4D">4</text>
<text x="533.58" y="908.5" font-size="8.2" text-anchor="middle" fill="#4D4D4D">6</text>
<line x1="565" x2="565" y1="582" y2="895.96" stroke="#EBEBEB" stroke-width="1.07"/><line x1="579.93" x2="579.93" y1="582" y2="895.96" stroke="#EBEBEB" stroke-width="0.53"/><line x1="594.86" x2="594.86" y1="582" y2="895.96" stroke="#EBEBEB" stroke-width="1.07"/><line x1="609.79" x2="609.79" y1="582" y2="895.96" stroke="#EBEBEB" stroke-width="0.53"/><line x1="624.72" x2="624.72" y1="582" y2="895.96" stroke="#EBEBEB" stroke-width="1.07"/><line x1="639.65" x2="639.65" y1="582" y2="895.96" stroke="#EBEBEB" stroke-width="0.53"/><line x1="654.58" x2="654.58" y1="582" y2="895.96" stroke="#EBEBEB" stroke-width="1.07"/><line x1="669.51" x2="669.51" y1="582" y2="895.96" stroke="#EBEBEB" stroke-width="0.53"/><line x1="559.77" x2="674.74" y1="600.47" y2="600.47" stroke="#EBEBEB" stroke-width="1.07"/><line x1="559.77" x2="674.74" y1="631.25" y2="631.25" stroke="#EBEBEB" stroke-width="1.07"/><line x1="559.77" x2="674.74" y1="662.03" y2="662.03" stroke="#EBEBEB" stroke-width="1.07"/><line x1="559.77" x2="674.74" y1="692.81" y2="692.81" stroke="#EBEBEB" stroke-width="1.07"/><line x1="559.77" x2="674.74" y1="723.59" y2="723.59" stroke="#EBEBEB" stroke-width="1.07"/><line x1="559.77" x2="674.74" y1="754.37" y2="754.37" stroke="#EBEBEB" stroke-width="1.07"/><line x1="559.77" x2="674.74" y1="785.15" y2="785.15" stroke="#EBEBEB" stroke-width="1.07"/><line x1="559.77" x2="674.74" y1="815.93" y2="815.93" stroke="#EBEBEB" stroke-width="1.07"/><line x1="559.77" x2="674.74" y1="846.71" y2="846.71" stroke="#EBEBEB" stroke-width="1.07"/><line x1="559.77" x2="674.74" y1="877.49" y2="877.49" stroke="#EBEBEB" stroke-width="1.07"/>
<text x="617.25" y="577.2" font-size="8.2" text-anchor="middle" textLength="48.58" lengthAdjust="spacing" fill="#1A1A1A">Republican</text>
<rect x="565" y="586.97" width="80.87" height="27" fill="#C0392B"/>
<text x="634.16" y="603.47" font-size="7.9" text-anchor="middle" textLength="19.01" lengthAdjust="spacing" fill="#fff">5.45</text>
<rect x="645.37" y="597.77" width="1.9" height="5.4" fill="#000"/>
<rect x="565" y="617.75" width="77.14" height="27" fill="#C0392B"/>
<text x="630.99" y="634.25" font-size="7.9" text-anchor="middle" textLength="13.58" lengthAdjust="spacing" fill="#fff">5.2</text>
<rect x="641.64" y="628.55" width="1.9" height="5.4" fill="#000"/>
<rect x="565" y="648.53" width="66.09" height="27" fill="#C0392B"/>
<text x="621.6" y="665.03" font-size="7.9" text-anchor="middle" textLength="19.01" lengthAdjust="spacing" fill="#fff">4.46</text>
<rect x="630.59" y="659.33" width="1.9" height="5.4" fill="#000"/>
<rect x="565" y="679.31" width="65.49" height="27" fill="#C0392B"/>
<text x="621.09" y="695.81" font-size="7.9" text-anchor="middle" textLength="19.01" lengthAdjust="spacing" fill="#fff">4.42</text>
<rect x="629.99" y="690.11" width="1.9" height="5.4" fill="#000"/>
<rect x="565" y="710.09" width="63.7" height="27" fill="#C0392B"/>
<text x="619.57" y="726.59" font-size="7.9" text-anchor="middle" textLength="13.58" lengthAdjust="spacing" fill="#fff">4.3</text>
<rect x="628.2" y="720.89" width="1.9" height="5.4" fill="#000"/>
<rect x="565" y="740.87" width="62.8" height="27" fill="#C0392B"/>
<text x="618.81" y="757.37" font-size="7.9" text-anchor="middle" textLength="19.01" lengthAdjust="spacing" fill="#fff">4.24</text>
<rect x="627.3" y="751.67" width="1.9" height="5.4" fill="#000"/>
<rect x="565" y="771.65" width="60.41" height="27" fill="#C0392B"/>
<text x="616.78" y="788.15" font-size="7.9" text-anchor="middle" textLength="19.01" lengthAdjust="spacing" fill="#fff">4.08</text>
<rect x="624.91" y="782.45" width="1.9" height="5.4" fill="#000"/>
<rect x="565" y="802.43" width="56.98" height="27" fill="#C0392B"/>
<text x="613.86" y="818.93" font-size="7.9" text-anchor="middle" textLength="19.01" lengthAdjust="spacing" fill="#fff">3.85</text>
<rect x="621.48" y="813.23" width="1.9" height="5.4" fill="#000"/>
<rect x="565" y="833.21" width="50.56" height="27" fill="#C0392B"/>
<text x="608.4" y="849.71" font-size="7.9" text-anchor="middle" textLength="19.01" lengthAdjust="spacing" fill="#fff">3.42</text>
<rect x="615.06" y="844.01" width="1.9" height="5.4" fill="#000"/>
<rect x="565" y="863.99" width="38.92" height="27" fill="#C0392B"/>
<text x="598.5" y="880.49" font-size="7.9" text-anchor="middle" textLength="19.01" lengthAdjust="spacing" fill="#fff">2.64</text>
<rect x="603.42" y="874.79" width="1.9" height="5.4" fill="#000"/>
<text x="565" y="908.5" font-size="8.2" text-anchor="middle" fill="#4D4D4D">0</text>
<text x="594.86" y="908.5" font-size="8.2" text-anchor="middle" fill="#4D4D4D">2</text>
<text x="624.72" y="908.5" font-size="8.2" text-anchor="middle" fill="#4D4D4D">4</text>
<text x="654.58" y="908.5" font-size="8.2" text-anchor="middle" fill="#4D4D4D">6</text>
<text x="433.5" y="603.57" font-size="8.2" text-anchor="end" textLength="43.19" lengthAdjust="spacing" fill="#4D4D4D">SECURITY</text>
<text x="433.5" y="634.35" font-size="8.2" text-anchor="end" textLength="63.47" lengthAdjust="spacing" fill="#4D4D4D">ACHIEVEMENT</text>
<text x="433.5" y="665.13" font-size="8.2" text-anchor="end" textLength="32.61" lengthAdjust="spacing" fill="#4D4D4D">POWER</text>
<text x="433.5" y="695.91" font-size="8.2" text-anchor="end" textLength="65.28" lengthAdjust="spacing" fill="#4D4D4D">BENEVOLENCE</text>
<text x="433.5" y="726.69" font-size="8.2" text-anchor="end" textLength="65.76" lengthAdjust="spacing" fill="#4D4D4D">UNIVERSALISM</text>
<text x="433.5" y="757.47" font-size="8.2" text-anchor="end" textLength="21.11" lengthAdjust="spacing" fill="#4D4D4D">SELF</text>
<text x="433.5" y="788.25" font-size="8.2" text-anchor="end" textLength="48" lengthAdjust="spacing" fill="#4D4D4D">TRADITION</text>
<text x="433.5" y="819.03" font-size="8.2" text-anchor="end" textLength="58.7" lengthAdjust="spacing" fill="#4D4D4D">CONFORMITY</text>
<text x="433.5" y="849.81" font-size="8.2" text-anchor="end" textLength="59.51" lengthAdjust="spacing" fill="#4D4D4D">STIMULATION</text>
<text x="433.5" y="880.59" font-size="8.2" text-anchor="end" textLength="48.24" lengthAdjust="spacing" fill="#4D4D4D">HEDONISM</text>
<text x="556" y="920.5" font-size="11" text-anchor="middle" fill="#000">Mean Rating (1–7 Likert Scale)</text>
</svg>
<svg class="plot" style="left:711px;top:527px" width="318" height="400" viewBox="711 527 318 400" font-family="'DejaVu Sans', sans-serif">
<rect x="711" y="527" width="318" height="400" fill="#fff"/>
<text x="866.4" y="548.9" font-size="18.4" text-anchor="middle" fill="#000">Multidimensional Scaling Map of</text>
<text x="866.3" y="568.2" font-size="18.4" text-anchor="middle" fill="#000">Presidents' Value Profile</text>
<text x="869.4" y="587.6" font-size="18.4" text-anchor="middle" fill="#000">by Euclidean Distance</text>
<circle cx="855.7" cy="709.2" r="5.4" fill="#446CB3"/>
<circle cx="863" cy="712" r="5.4" fill="#446CB3"/>
<circle cx="842.7" cy="665.8" r="5.4" fill="#C0392B"/>
<circle cx="877.4" cy="680.8" r="5.4" fill="#C0392B"/>
<circle cx="869.7" cy="700.5" r="5.4" fill="#C0392B"/>
<circle cx="861.5" cy="707.5" r="5.4" fill="#C0392B"/>
<circle cx="847.3" cy="713.8" r="5.4" fill="#C0392B"/>
<circle cx="822.2" cy="733.8" r="5.4" fill="#C0392B"/>
<circle cx="839.3" cy="745.8" r="5.4" fill="#446CB3"/>
<circle cx="867.8" cy="745.2" r="5.4" fill="#C0392B"/>
<circle cx="876.7" cy="757.2" r="5.4" fill="#C0392B"/>
<circle cx="884.8" cy="759.4" r="5.4" fill="#446CB3"/>
<circle cx="926.2" cy="766.7" r="5.4" fill="#446CB3"/>
<circle cx="930" cy="766.2" r="5.4" fill="#C0392B"/>
<circle cx="820.7" cy="782.2" r="5.4" fill="#C0392B"/>
<circle cx="916.2" cy="806.3" r="5.4" fill="#446CB3"/>
<circle cx="938.8" cy="818.3" r="5.4" fill="#446CB3"/>
<circle cx="923" cy="823.3" r="5.4" fill="#446CB3"/>
<circle cx="850.2" cy="815" r="5.4" fill="#C0392B"/>
<circle cx="889.7" cy="862" r="5.4" fill="#446CB3"/>
<circle cx="744.3" cy="888.8" r="5.4" fill="#C0392B"/>
<line x1="847.3" y1="692" x2="859" y2="704.5" stroke="#C0392B" stroke-width="1.3"/>
<line x1="801.8" y1="739.7" x2="818.5" y2="734.8" stroke="#C0392B" stroke-width="1.3"/>
<line x1="814.3" y1="758.7" x2="836.5" y2="748.8" stroke="#446CB3" stroke-width="1.3"/>
<line x1="876.2" y1="770" x2="882.5" y2="762.5" stroke="#446CB3" stroke-width="1.3"/>
<text x="752.7" y="654.7" font-size="11" textLength="116.15" lengthAdjust="spacing" fill="#C0392B">Theodore Roosevelt</text>
<text x="875.8" y="672.5" font-size="11" textLength="108.08" lengthAdjust="spacing" fill="#C0392B">Warren G. Harding</text>
<text x="774.3" y="689.7" font-size="11" textLength="90.6" lengthAdjust="spacing" fill="#C0392B">Herbert Hoover</text>
<text x="876.7" y="695.5" font-size="11" textLength="83.29" lengthAdjust="spacing" fill="#C0392B">Gerald R. Ford</text>
<text x="725.7" y="707.5" font-size="11" textLength="123.31" lengthAdjust="spacing" fill="#446CB3">Franklin D. Roosevelt</text>
<text x="870" y="718.8" font-size="11" textLength="90.81" lengthAdjust="spacing" fill="#446CB3">Harry S Truman</text>
<text x="758.8" y="725.5" font-size="11" textLength="90.94" lengthAdjust="spacing" fill="#C0392B">Calvin Coolidge</text>
<text x="861.3" y="736.7" font-size="11" textLength="92.99" lengthAdjust="spacing" fill="#C0392B">George W. Bush</text>
<text x="715.7" y="744.2" font-size="11" textLength="83.51" lengthAdjust="spacing" fill="#C0392B">William H. Taft</text>
<text x="807.7" y="754.8" font-size="11" textLength="128.93" lengthAdjust="spacing" fill="#C0392B">Dwight D. Eisenhower</text>
<text x="715.7" y="762.5" font-size="11" textLength="96.11" lengthAdjust="spacing" fill="#446CB3">Woodrow Wilson</text>
<text x="941.2" y="760.8" font-size="11" textLength="81.29" lengthAdjust="spacing" fill="#C0392B">Richard Nixon</text>
<text x="816.8" y="780.6" font-size="11" textLength="107.08" lengthAdjust="spacing" fill="#446CB3">Lyndon B. Johnson</text>
<text x="935.3" y="780.5" font-size="11" textLength="76.88" lengthAdjust="spacing" fill="#446CB3">Jimmy Carter</text>
<text x="729.7" y="798.8" font-size="11" textLength="87.73" lengthAdjust="spacing" fill="#C0392B">Ronald Reagan</text>
<text x="828.8" y="798.7" font-size="11" textLength="98.74" lengthAdjust="spacing" fill="#446CB3">William J. Clinton</text>
<text x="930" y="811.7" font-size="11" textLength="92.12" lengthAdjust="spacing" fill="#446CB3">John F. Kennedy</text>
<text x="802.7" y="829.7" font-size="11" textLength="75.32" lengthAdjust="spacing" fill="#C0392B">George Bush</text>
<text x="889.2" y="837.8" font-size="11" textLength="86.48" lengthAdjust="spacing" fill="#446CB3">Barack Obama</text>
<text x="824.8" y="876.8" font-size="11" textLength="109.28" lengthAdjust="spacing" fill="#446CB3">Joseph R. Biden, Jr.</text>
<text x="750.7" y="899.5" font-size="11" textLength="92.52" lengthAdjust="spacing" fill="#C0392B">Donald J. Trump</text>
</svg>
<div class="edge-top"></div><div class="edge-right"></div>
<svg class="corner" viewBox="0 0 22 22"><path d="M11 11 A11 11 0 0 0 22 22 L11 22Z" fill="#3a1512"/></svg>
</body></html>
